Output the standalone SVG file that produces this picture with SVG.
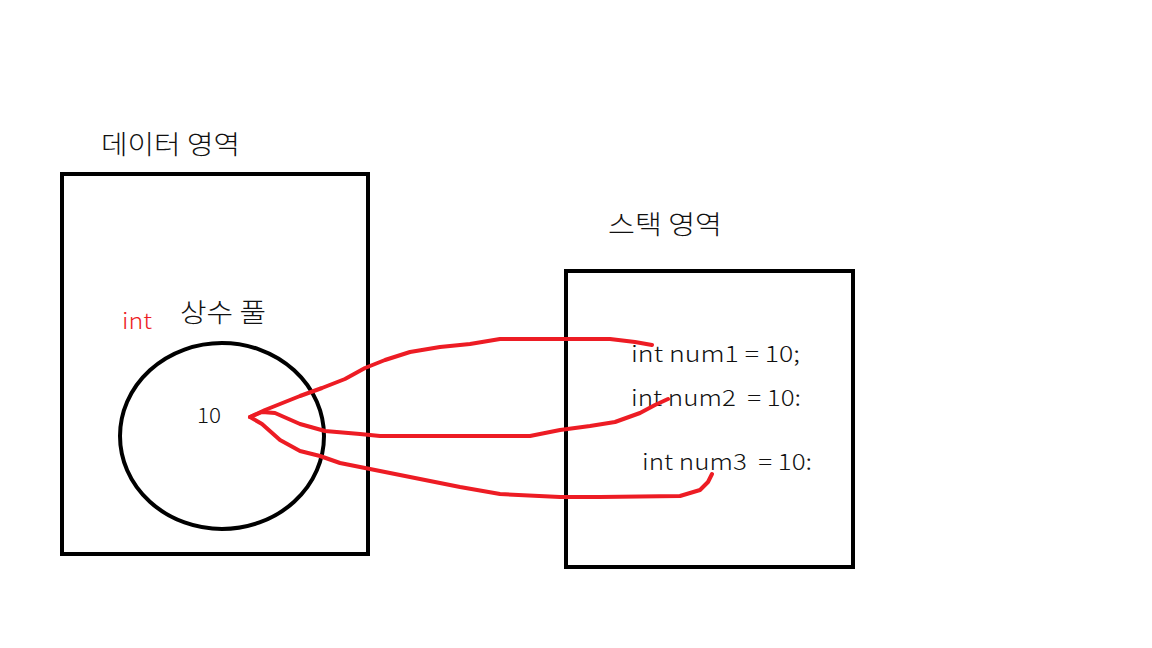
<svg xmlns="http://www.w3.org/2000/svg" width="1152" height="648" viewBox="0 0 1152 648">
<style>
.box{fill:none;stroke:#000;stroke-width:4}
.t{font-family:"Noto Sans CJK KR","Noto Sans",sans-serif;fill:#111;font-weight:300}
.red{fill:none;stroke:#ed1c24;stroke-width:4;stroke-linecap:round;stroke-linejoin:round}
</style>
<rect width="1152" height="648" fill="#fff"/>
<g id="data-area">
<rect class="box" x="62" y="174" width="306" height="380"/>
<text class="t" x="101" y="154" font-size="26" textLength="139" lengthAdjust="spacingAndGlyphs">데이터 영역</text>
</g>
<g id="constant-pool">
<ellipse cx="222" cy="436" rx="102" ry="93" fill="none" stroke="#000" stroke-width="4"/>
<text class="t" x="180" y="322" font-size="26" textLength="86" lengthAdjust="spacingAndGlyphs">상수 풀</text>
<text x="122" y="329" font-size="22" font-family="Noto Sans CJK KR, sans-serif" font-weight="300" fill="#ed1c24" textLength="30" lengthAdjust="spacingAndGlyphs">int</text>
<text class="t" x="197" y="423" font-size="21" textLength="24" lengthAdjust="spacingAndGlyphs">10</text>
</g>
<g id="stack-area">
<rect class="box" x="566" y="271" width="287" height="296"/>
<text class="t" x="608" y="234" font-size="26" textLength="114" lengthAdjust="spacingAndGlyphs">스택 영역</text>
<text class="t" x="631" y="362" font-size="22" textLength="169" lengthAdjust="spacingAndGlyphs">int num1 = 10;</text>
<text class="t" x="631" y="406" font-size="22" xml:space="preserve" textLength="170" lengthAdjust="spacingAndGlyphs">int num2  = 10:</text>
<text class="t" x="642" y="470" font-size="22" xml:space="preserve" textLength="170" lengthAdjust="spacingAndGlyphs">int num3  = 10:</text>
</g>
<g id="connectors">
<path class="red" d="M250,417 L265,410 L300,396 L322,388 L345,379 L365,368 L385,360 L410,352 L440,347 L470,344 L500,339 L560,339 L610,339 L635,342 L652,345"/>
<path class="red" d="M250,417 L262,412 L275,413 L300,424 L325,431 L360,434 L380,436 L440,436 L530,436 L560,430 L590,426 L615,422 L640,413 L655,405 L668,399"/>
<path class="red" d="M250,417 L262,424 L280,440 L300,451 L320,456 L340,463 L380,471 L420,479 L460,487 L500,494 L560,497 L600,497 L680,496 L700,490 L708,482 L712,474"/>
</g>
</svg>
